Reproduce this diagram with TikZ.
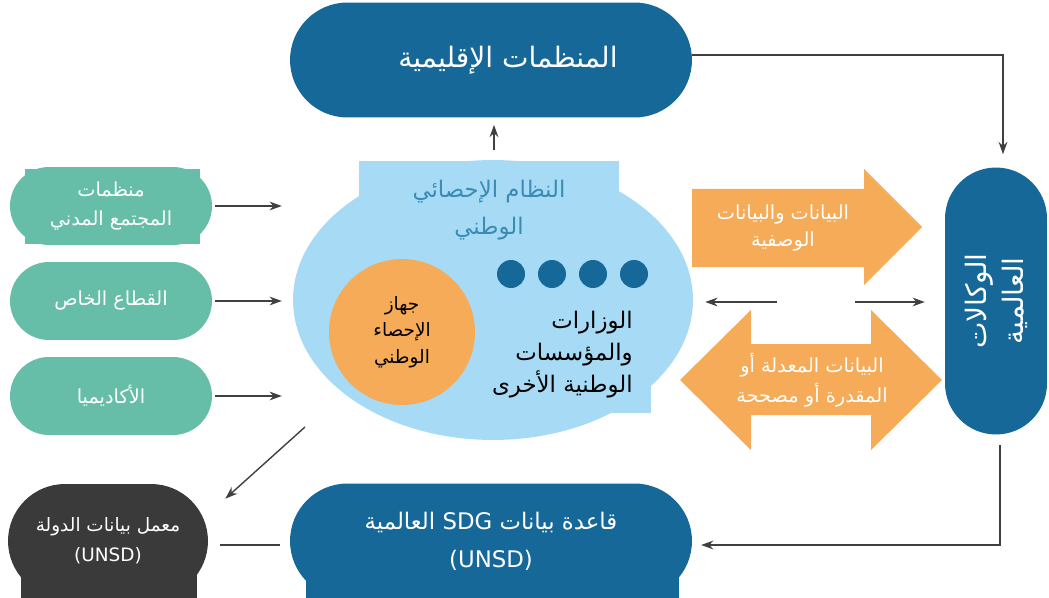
\documentclass[tikz,border=0pt]{standalone}
\usepackage{fontspec}
\usepackage{xcolor}
\usepackage{tikz}
\usetikzlibrary{positioning,calc,arrows.meta,shapes.geometric}
\TeXXeTstate=1
\newfontfamily\arabicfont[Script=Arabic]{DejaVu Sans}
\newcommand{\artext}[1]{{\arabicfont\beginR #1\endR}}
\definecolor{regBlue}{RGB}{22,104,153}
\definecolor{sectorGreen}{RGB}{102,190,168}
\definecolor{dataOrange}{RGB}{245,171,87}
\definecolor{nssBlue}{RGB}{166,218,245}
\definecolor{labGray}{RGB}{58,58,58}
\definecolor{titleBlue}{RGB}{58,140,180}
\definecolor{lineGray}{RGB}{64,64,64}
\tikzset{
    pill/.style={
        fill=regBlue,
        text=white,
        rounded corners=1.15cm,
        minimum width=8.04cm,
        minimum height=2.3cm,
        align=center,
        inner sep=0pt,
        font=\arabicfont\fontsize{16}{22}\selectfont
    },
    sector/.style={
        fill=sectorGreen,
        text=white,
        rounded corners=0.78cm,
        minimum width=4.04cm,
        minimum height=1.56cm,
        align=center,
        inner sep=0pt,
        font=\arabicfont\fontsize{11}{16}\selectfont
    },
    conn/.style={
        -{Stealth[length=7pt,width=5pt]},
        draw=lineGray,
        line width=0.8pt
    },
    plainline/.style={draw=lineGray, line width=0.8pt},
    dot/.style={circle, fill=regBlue, minimum size=0.56cm, inner sep=0pt},
    arrowtext/.style={
        text=white,
        align=center,
        font=\arabicfont\fontsize{11}{15.5}\selectfont
    }
}

\begin{document}
\begin{tikzpicture}[x=0.02cm, y=-0.02cm]
    \useasboundingbox (0,0) rectangle (1049,598);

    % top and right
    \node[pill] (reg) at (491,60) {\hspace*{0.68cm}\artext{المنظمات الإقليمية}};
    \node[pill, rotate=90, minimum width=5.34cm, minimum height=2.04cm,
          rounded corners=1.02cm, font=\arabicfont\fontsize{16}{21}\selectfont]
          (agency) at (996,301) {\artext{الوكالات}\\\artext{العالمية}};

    % national statistical system
    \node[ellipse, fill=nssBlue, minimum width=8cm, minimum height=5.6cm] (nss) at (493,300) {};
    \node[fill=nssBlue, minimum width=5.2cm, minimum height=1.8cm, align=center,
          text=titleBlue, font=\arabicfont\fontsize{13}{21}\selectfont]
          (nssTitle) at (489,206) {\\[-6pt]\artext{النظام الإحصائي}\\\artext{الوطني}};
    \node[anchor=south east, fill=nssBlue, align=right, inner xsep=0.36cm, inner ysep=0.3cm,
          font=\arabicfont\fontsize{13}{18}\selectfont]
          (ministries) at (651,413) {\artext{الوزارات}\\\artext{والمؤسسات}\\\artext{الوطنية الأخرى}};
    \node[circle, fill=dataOrange, minimum size=2.92cm, align=center,
          font=\arabicfont\fontsize{10.5}{15}\selectfont]
          (nso) at (402,332) {\artext{جهاز}\\\artext{الإحصاء}\\\artext{الوطني}};
    \foreach \i in {1,...,4}
        \node[dot] (dot\i) at ({470+41*\i},274) {};

    % other producers
    \fill[sectorGreen] (25,169) rectangle (200,244);
    \node[sector] (civil) at (111,206) {\artext{منظمات}\\\artext{المجتمع المدني}};
    \node[sector] (private) at (111,301) {\artext{القطاع الخاص}};
    \node[sector] (academia) at (111,396) {\artext{الأكاديميا}};

    % bottom row
    \fill[labGray] (21,515) rectangle (197,598);
    \node[pill, fill=labGray, minimum width=4cm, minimum height=2.28cm, rounded corners=1.14cm,
          font=\arabicfont\fontsize{10.5}{17}\selectfont]
          (lab) at (108,541) {\artext{معمل بيانات الدولة}\\(UNSD)};
    \fill[regBlue] (306,519) rectangle (679,598);
    \node[pill, font=\arabicfont\fontsize{13}{21.5}\selectfont]
          (sdg) at (491,541) {\artext{قاعدة بيانات \beginL SDG\endL{} العالمية}\\(UNSD)};

    % data flows
    \fill[dataOrange] (692,189) -- (864,189) -- (864,169) -- (922,227)
        -- (864,285) -- (864,267) -- (692,267) -- cycle;
    \node[arrowtext] (dataFwd) at (783,228) {\artext{البيانات والبيانات}\\\artext{الوصفية}};
    \fill[dataOrange] (680,380) -- (751,310) -- (751,344) -- (871,344) -- (871,310)
        -- (942,380) -- (871,450) -- (871,415) -- (751,415) -- (751,450) -- cycle;
    \node[arrowtext, font=\arabicfont\fontsize{11}{17}\selectfont]
          (dataBack) at (812,380) {\artext{البيانات المعدلة أو}\\\artext{المقدرة أو مصححة}};

    % connectors
    \foreach \s in {civil, private, academia}
        \draw[conn, shorten <=1.7pt, shorten >=6.2pt] (\s.east) -- (\s.east -| nss.west);
    \draw[conn, shorten <=6.2pt, shorten >=4pt] ([xshift=0.1cm]nssTitle.north) -- ([xshift=0.1cm]nssTitle.north |- reg.south);
    \draw[conn, shorten >=7.4pt] ([yshift=0.1cm]reg.east) -| ([xshift=0.14cm]agency.east);
    \draw[conn, shorten <=5.7pt, shorten >=5pt] ([xshift=0.08cm]agency.west) |- ([yshift=-0.08cm]sdg.east);
    \draw[plainline, shorten <=6.8pt, shorten >=5.7pt] ([yshift=-0.08cm]lab.east) -- ([yshift=-0.08cm]sdg.west);

    \coordinate (nssOut) at (305,427);
    \draw[conn] (nssOut) -- ([xshift=0.34cm, yshift=-0.3cm]lab.north east);

    \coordinate (midL) at (777,302);
    \coordinate (midR) at (855,302);
    \draw[conn, shorten >=6.8pt] (midL) -- (midL -| nss.east);
    \draw[conn, shorten >=11.3pt] (midR) -- (midR -| agency.north);
\end{tikzpicture}
\end{document}
